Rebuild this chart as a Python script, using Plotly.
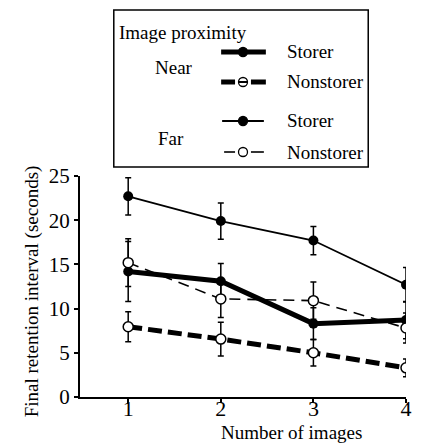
import plotly.graph_objects as go

# ---------------- data ----------------
images = [1, 2, 3, 4]

near_storer = [14.2, 13.1, 8.3, 8.7]
near_storer_err = [3.4, 2.0, 1.8, 2.1]

near_nonstorer = [7.95, 6.55, 5.0, 3.3]
near_nonstorer_err = [1.7, 1.9, 1.5, 1.0]

far_storer = [22.7, 19.9, 17.7, 12.7]
far_storer_err = [2.1, 2.05, 1.6, 1.95]

far_nonstorer = [15.2, 11.1, 10.9, 7.8]
far_nonstorer_err = [2.7, 2.1, 2.1, 1.7]

x_ticks = [1, 2, 3, 4]
y_ticks = [0, 5, 10, 15, 20, 25]

# ---------------- layout geometry ----------------
W, H = 424, 447
ML, MR, MT, MB = 80, 16, 176, 50
PW, PH = W - ML - MR, H - MT - MB
FONT = "Liberation Serif"


def fx(px):
    return (px - ML) / PW


def fy(py):
    return (H - MB - py) / PH


def err(vals):
    return dict(type="data", array=vals, visible=True, color="black",
                thickness=1.5, width=3)


fig = go.Figure()

fig.add_trace(go.Scatter(
    x=images, y=near_storer, mode="lines+markers", name="Near Storer",
    line=dict(color="black", width=5),
    marker=dict(symbol="circle", size=10, color="black"),
    error_y=err(near_storer_err), showlegend=False))

fig.add_trace(go.Scatter(
    x=images, y=far_storer, mode="lines+markers", name="Far Storer",
    line=dict(color="black", width=1.8),
    marker=dict(symbol="circle", size=10, color="black"),
    error_y=err(far_storer_err), showlegend=False))

fig.add_trace(go.Scatter(
    x=images, y=far_nonstorer, mode="lines+markers", name="Far Nonstorer",
    line=dict(color="black", width=1.6, dash="11px,7px"),
    marker=dict(symbol="circle", size=10, color="white",
                line=dict(color="black", width=1.5)),
    error_y=err(far_nonstorer_err), showlegend=False))

fig.add_trace(go.Scatter(
    x=images, y=near_nonstorer, mode="lines+markers", name="Near Nonstorer",
    line=dict(color="black", width=5, dash="14px,6px"),
    marker=dict(symbol="circle", size=10, color="white",
                line=dict(color="black", width=1.5)),
    error_y=err(near_nonstorer_err), showlegend=False))

# ---------------- custom legend ----------------
shapes = []
annotations = []

shapes.append(dict(type="rect", xref="paper", yref="paper",
                   x0=fx(114), x1=fx(370), y0=fy(167), y1=fy(10),
                   line=dict(color="black", width=1.5), fillcolor="white",
                   layer="below"))


def seg(x0, x1, y, w):
    shapes.append(dict(type="line", xref="paper", yref="paper",
                       x0=fx(x0), x1=fx(x1), y0=fy(y), y1=fy(y),
                       line=dict(color="black", width=w)))


def dot(x, y, filled, r=4.5):
    shapes.append(dict(type="circle", xref="paper", yref="paper",
                       xsizemode="pixel", ysizemode="pixel",
                       xanchor=fx(x), yanchor=fy(y),
                       x0=-r, x1=r, y0=-r, y1=r,
                       fillcolor="black" if filled else "white",
                       line=dict(color="black", width=1.3)))


def text(s, x, y, xanchor="left"):
    annotations.append(dict(text=s, xref="paper", yref="paper",
                            x=fx(x), y=fy(y), xanchor=xanchor,
                            yanchor="middle", showarrow=False,
                            font=dict(family=FONT, size=19, color="black")))


text("Image proximity", 117, 32)
text("Near", 175, 68, "center")
text("Far", 172, 138, "center")

# Near storer
seg(222, 267, 52, 5)
dot(244, 52, True)
text("Storer", 286, 51)
# Near nonstorer
seg(222, 236, 82, 5)
seg(252, 267, 82, 5)
dot(244, 82, False)
seg(240, 248, 82, 2)
text("Nonstorer", 286, 82)
# Far storer
seg(223, 265, 121, 1.8)
dot(244, 121, True)
text("Storer", 286, 120)
# Far nonstorer
seg(225, 236, 152, 1.6)
seg(252, 265, 152, 1.6)
dot(244, 152, False)
text("Nonstorer", 286, 152)

# axis titles
annotations.append(dict(text="Number of images", xref="paper", yref="paper",
                        x=fx(293), y=fy(432), xanchor="center",
                        yanchor="middle", showarrow=False,
                        font=dict(family=FONT, size=19, color="black")))
annotations.append(dict(text="Final retention interval (seconds)",
                        xref="paper", yref="paper", x=fx(32), y=fy(291),
                        xanchor="center", yanchor="middle", textangle=-90,
                        showarrow=False,
                        font=dict(family=FONT, size=19, color="black")))

fig.update_layout(
    width=W, height=H,
    margin=dict(l=ML, r=MR, t=MT, b=MB, pad=0),
    paper_bgcolor="white", plot_bgcolor="white",
    font=dict(family=FONT, color="black"),
    shapes=shapes, annotations=annotations,
    xaxis=dict(range=[0.4795, 4.0], tickvals=x_ticks,
               ticktext=[str(v) for v in x_ticks],
               showline=True, linecolor="black", linewidth=2,
               ticks="outside", ticklen=4, tickwidth=1.5, tickcolor="black",
               ticklabelstandoff=-13,
               showgrid=False, zeroline=False,
               tickfont=dict(family=FONT, size=22, color="black")),
    yaxis=dict(range=[0, 25], tickvals=y_ticks,
               ticktext=[str(v) for v in y_ticks],
               showline=True, linecolor="black", linewidth=2,
               ticks="outside", ticklen=4, tickwidth=1.5, tickcolor="black",
               showgrid=False, zeroline=False,
               tickfont=dict(family=FONT, size=21, color="black")),
)

fig.write_html("out.html")
